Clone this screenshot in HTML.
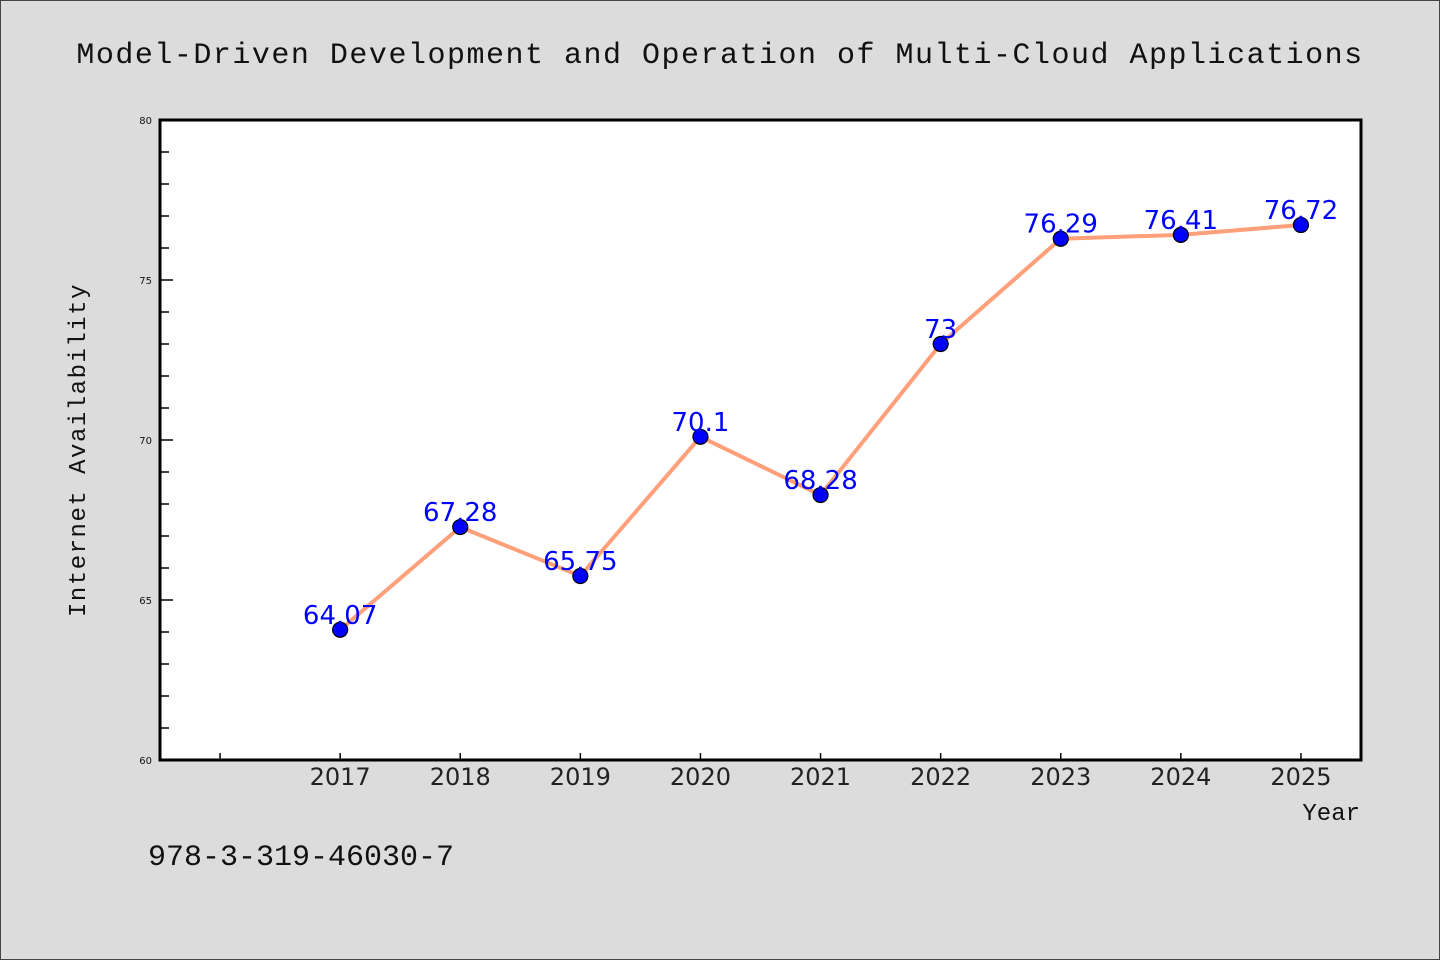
<!DOCTYPE html>
<html><head><meta charset="utf-8"><style>
html,body{margin:0;padding:0;background:#dcdcdc;}
svg{display:block;}
</style></head><body>
<svg id="chart" width="1440" height="960" xmlns="http://www.w3.org/2000/svg">
<rect x="0.5" y="0.5" width="1439" height="959" fill="#dcdcdc" stroke="#444" stroke-width="1"/>
<text x="720" y="63" text-anchor="middle" font-family="'WenQuanYi Zen Hei','Liberation Mono',monospace" font-size="30" fill="#111" letter-spacing="1.5">Model-Driven Development and Operation of Multi-Cloud Applications</text>
<rect x="160" y="120" width="1201" height="640" fill="#fff"/>
<g id="yticks"></g><g id="xticks"></g>
<rect x="160" y="120" width="1201" height="640" fill="none" stroke="#000" stroke-width="3"/>
<g id="series"></g>
<text transform="translate(85,450) rotate(-90)" text-anchor="middle" font-family="'WenQuanYi Zen Hei','Liberation Mono',monospace" font-size="24" fill="#111" letter-spacing="1.5">Internet Availability</text>
<text x="1360" y="820" text-anchor="end" font-family="'WenQuanYi Zen Hei','Liberation Mono',monospace" font-size="24" fill="#111">Year</text>
<text x="148" y="865" font-family="'WenQuanYi Zen Hei','Liberation Mono',monospace" font-size="30" fill="#111">978-3-319-46030-7</text>
</svg>
<script>
const years = [2017,2018,2019,2020,2021,2022,2023,2024,2025];
const values = [64.07,67.28,65.75,70.1,68.28,73,76.29,76.41,76.72];
const yTickLabels = [60,65,70,75,80];
const NS='http://www.w3.org/2000/svg';
const X0=160,X1=1361,Y0=760,Y1=120;
const xMin=2015.5,xMax=2025.5,yMin=60,yMax=80;
function sx(v){return X0+(v-xMin)/(xMax-xMin)*(X1-X0);}
function sy(v){return Y0-(v-yMin)/(yMax-yMin)*(Y0-Y1);}
function mk(tag,attrs,parent){const e=document.createElementNS(NS,tag);for(const k in attrs)e.setAttribute(k,attrs[k]);parent.appendChild(e);return e;}
const yt=document.getElementById('yticks');
for(let v=yMin;v<=yMax;v++){
  const major=yTickLabels.includes(v);
  const t=mk('line',{x1:X0,x2:X0+(major?13:9),y1:sy(v),y2:sy(v),stroke:'#000','stroke-width':1.5},yt);
  
  
}
yTickLabels.forEach(v=>{
  const t=mk('text',{x:X0-8,y:sy(v)+4,'text-anchor':'end','font-family':'DejaVu Sans,sans-serif','font-size':10,fill:'#111'},yt);
  t.textContent=v;
  
  
});
const xt=document.getElementById('xticks');
[2016].concat(years).forEach(y=>{
  const t=mk('line',{x1:sx(y),x2:sx(y),y1:Y0,y2:Y0-7,stroke:'#000','stroke-width':1.5},xt);
  
  
});
years.forEach(y=>{
  const t=mk('text',{x:sx(y),y:785,'text-anchor':'middle','font-family':'DejaVu Sans,sans-serif','font-size':24,fill:'#222'},xt);
  t.textContent=y;
  
  
});
const s=document.getElementById('series');
const pts=years.map((y,i)=>sx(y)+','+sy(values[i])).join(' ');
const pl=mk('polyline',{points:pts,fill:'none',stroke:'#ffa07a','stroke-width':4,'stroke-linejoin':'round'},s);


years.forEach((y,i)=>{
  const c=mk('circle',{cx:sx(y),cy:sy(values[i]),r:7.5,fill:'#0000ff',stroke:'#000','stroke-width':1.2},s);
  
  
  const t=mk('text',{x:sx(y),y:sy(values[i])-6,'text-anchor':'middle','font-family':'DejaVu Sans,sans-serif','font-size':26,fill:'#0000ff'},s);
  t.textContent=values[i];
  
  
});
</script>
</body></html>
